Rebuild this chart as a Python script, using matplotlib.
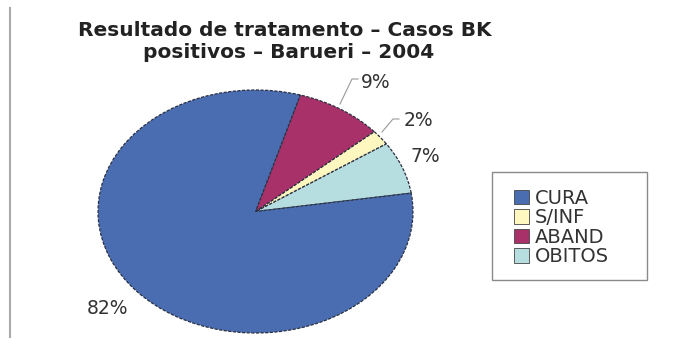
import matplotlib.pyplot as plt
from matplotlib.patches import Patch, Rectangle

# resultado de tratamento, casos BK positivos, Barueri 2004
categorias = ['CURA', 'S/INF', 'ABAND', 'OBITOS']
percentuais = [82, 2, 9, 7]
cores = ['#4a6db2', '#fff7c0', '#a9316a', '#b6dde0']

# ordem das fatias no sentido anti-horario, a partir da direita
ordem = ['OBITOS', 'S/INF', 'ABAND', 'CURA']

fig = plt.figure(figsize=(6.88, 3.46), dpi=100)
fig.patch.set_facecolor('white')

idx = [categorias.index(c) for c in ordem]
valores = [percentuais[i] for i in idx]
cores_fatias = [cores[i] for i in idx]

# eixo esticado na horizontal: o pie sai eliptico
ax = fig.add_axes([98 / 688, 13 / 346, 315 / 688, 243 / 346])
fatias, _ = ax.pie(valores, colors=cores_fatias, startangle=8.7,
                   counterclock=True, radius=1.0,
                   wedgeprops=dict(edgecolor='#2a3040', linewidth=0.9,
                                   linestyle=(0, (2.5, 1.2))))
ax.set_aspect('auto')
ax.set_xlim(-1, 1)
ax.set_ylim(-1, 1)
ax.axis('off')

fonte = ['DejaVu Sans']

# titulo
fig.text(285 / 688, 1 - 30 / 346, 'Resultado de tratamento – Casos BK',
         ha='center', va='center', fontsize=14.5, fontweight='bold',
         color='#222222', family=fonte)
fig.text(289 / 688, 1 - 52 / 346, 'positivos – Barueri – 2004',
         ha='center', va='center', fontsize=14.5, fontweight='bold',
         color='#222222', family=fonte)

# rotulos de porcentagem
rotulos = {'CURA': (107, 309), 'ABAND': (376, 82), 'S/INF': (418, 120),
           'OBITOS': (425, 157)}
for nome, (px, py) in rotulos.items():
    v = percentuais[categorias.index(nome)]
    fig.text(px / 688, 1 - py / 346, f'{v}%', ha='center', va='center',
             fontsize=13.5, color='#333333', family=fonte)

# linhas de chamada para as fatias pequenas
linhas = [([358, 352, 340], [79, 79, 104]),
          ([399, 393, 382], [119, 119, 132])]
for xs, ys in linhas:
    fig.add_artist(plt.Line2D([x / 688 for x in xs],
                              [1 - y / 346 for y in ys],
                              color='#999999', linewidth=0.8))

# linha vertical cinza na margem esquerda
fig.add_artist(plt.Line2D([10 / 688, 10 / 688], [1 - 8 / 346, 1 - 337 / 346],
                          color='#aaaaaa', linewidth=1.5))

# moldura da legenda
fig.add_artist(Rectangle((492 / 688, 1 - 280 / 346), 155 / 688, 108 / 346,
                         transform=fig.transFigure, facecolor='white',
                         edgecolor='#8a8a8a', linewidth=1.0))

# legenda
handles = [Patch(facecolor=cores[i], edgecolor='#444444', linewidth=0.6)
           for i in range(len(categorias))]
leg = fig.legend(handles, categorias, loc='upper left',
                 bbox_to_anchor=(514 / 688, 1 - 189 / 346),
                 frameon=False,
                 prop={'family': fonte, 'size': 14},
                 handlelength=0.75, handleheight=0.75, handletextpad=0.3,
                 labelspacing=0.02, borderpad=0, borderaxespad=0)
for t in leg.get_texts():
    t.set_color('#333333')

fig.savefig('out.png', dpi=100, facecolor='white')
